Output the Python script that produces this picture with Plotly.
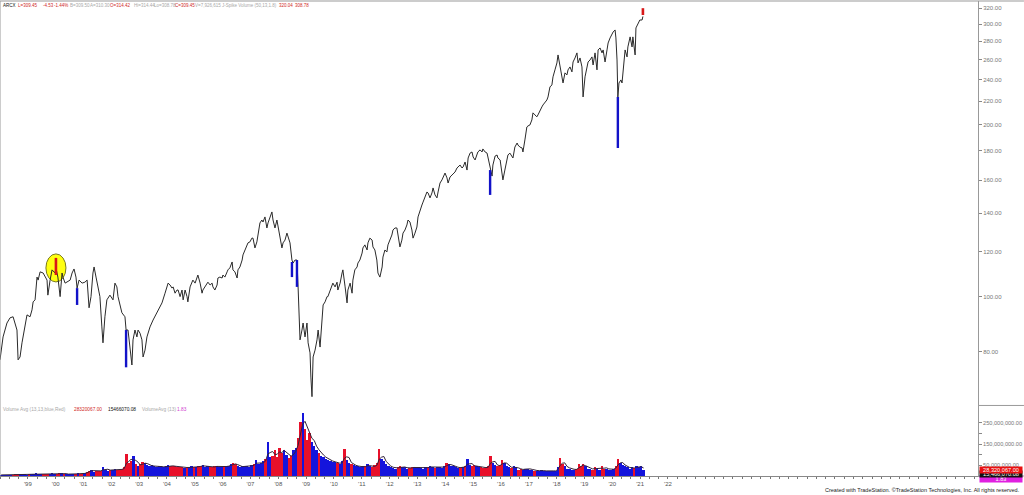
import numpy as np
import pandas as pd
import plotly.graph_objects as go

# ---------------- data ----------------
years = [
    1998.00, 1998.11, 1998.25, 1998.36, 1998.47, 1998.54, 1998.61, 1998.65, 1998.72, 1998.79, 1998.90, 1998.97,
    1999.08, 1999.15, 1999.19, 1999.26, 1999.33, 1999.37, 1999.44, 1999.55, 1999.69, 1999.72, 1999.80, 1999.87, 1999.98,
    2000.01, 2000.08, 2000.16, 2000.23, 2000.26, 2000.34, 2000.41, 2000.52, 2000.59, 2000.66, 2000.73, 2000.77, 2000.84, 2000.95,
    2001.05, 2001.13, 2001.20, 2001.27, 2001.34, 2001.38, 2001.45, 2001.52, 2001.59, 2001.66, 2001.70, 2001.77, 2001.84, 2001.95,
    2002.06, 2002.13, 2002.20, 2002.24, 2002.38, 2002.49, 2002.53, 2002.60, 2002.67, 2002.74, 2002.78, 2002.85, 2002.92, 2002.96,
    2003.03, 2003.10, 2003.14, 2003.21, 2003.28, 2003.32, 2003.39, 2003.50, 2003.64, 2003.75, 2003.82, 2003.93,
    2004.00, 2004.04, 2004.11, 2004.18, 2004.22, 2004.29, 2004.36, 2004.40, 2004.47, 2004.54, 2004.58, 2004.65, 2004.72, 2004.75, 2004.83, 2004.90, 2004.93,
    2005.01, 2005.08, 2005.11, 2005.19, 2005.26, 2005.29, 2005.37, 2005.44, 2005.47, 2005.55, 2005.62, 2005.65, 2005.72, 2005.80, 2005.83, 2005.90, 2005.98,
    2006.01, 2006.08, 2006.16, 2006.19, 2006.26, 2006.34, 2006.37, 2006.44, 2006.52, 2006.55, 2006.62, 2006.70, 2006.73, 2006.80, 2006.87, 2006.91, 2006.98,
    2007.05, 2007.09, 2007.16, 2007.23, 2007.27, 2007.34, 2007.41, 2007.45, 2007.52, 2007.59, 2007.63, 2007.70, 2007.77, 2007.81, 2007.88, 2007.95, 2007.99,
    2008.06, 2008.13, 2008.17, 2008.24, 2008.31, 2008.35, 2008.42, 2008.49, 2008.53, 2008.60, 2008.67, 2008.71, 2008.74, 2008.78, 2008.85, 2008.89, 2008.96,
    2009.03, 2009.07, 2009.14, 2009.17, 2009.21, 2009.25, 2009.32, 2009.39, 2009.43, 2009.50, 2009.57, 2009.61, 2009.68, 2009.75, 2009.78, 2009.86, 2009.96,
    2010.04, 2010.11, 2010.14, 2010.22, 2010.29, 2010.32, 2010.40, 2010.47, 2010.50, 2010.58, 2010.65, 2010.68, 2010.75, 2010.83, 2010.86, 2010.93,
    2011.01, 2011.04, 2011.11, 2011.19, 2011.22, 2011.29, 2011.37, 2011.40, 2011.47, 2011.54, 2011.58, 2011.65, 2011.73, 2011.76, 2011.83, 2011.90, 2011.94,
    2012.01, 2012.08, 2012.12, 2012.19, 2012.26, 2012.30, 2012.37, 2012.44, 2012.48, 2012.55, 2012.62, 2012.66, 2012.73, 2012.80, 2012.84, 2012.91, 2012.98,
    2013.02, 2013.09, 2013.16, 2013.20, 2013.27, 2013.34, 2013.38, 2013.45, 2013.52, 2013.56, 2013.63, 2013.70, 2013.74, 2013.81, 2013.88, 2013.92, 2013.99,
    2014.06, 2014.10, 2014.17, 2014.24, 2014.28, 2014.35, 2014.42, 2014.46, 2014.53, 2014.60, 2014.64, 2014.71, 2014.78, 2014.82, 2014.89, 2014.96,
    2015.00, 2015.07, 2015.14, 2015.17, 2015.25, 2015.32, 2015.35, 2015.43, 2015.50, 2015.53, 2015.61, 2015.68, 2015.71, 2015.79, 2015.86, 2015.89, 2015.97,
    2016.04, 2016.07, 2016.14, 2016.22, 2016.25, 2016.32, 2016.40, 2016.43, 2016.50, 2016.58, 2016.61, 2016.68, 2016.76, 2016.79, 2016.86, 2016.93, 2016.97,
    2017.04, 2017.11, 2017.15, 2017.22, 2017.29, 2017.33, 2017.40, 2017.47, 2017.51, 2017.58, 2017.65, 2017.69, 2017.76, 2017.83, 2017.87, 2017.94,
    2018.01, 2018.05, 2018.12, 2018.19, 2018.23, 2018.30, 2018.37, 2018.41, 2018.48, 2018.55, 2018.59, 2018.66, 2018.73, 2018.77, 2018.84, 2018.91, 2018.95,
    2019.02, 2019.09, 2019.13, 2019.20, 2019.27, 2019.31, 2019.38, 2019.45, 2019.49, 2019.56, 2019.63, 2019.67, 2019.74, 2019.81, 2019.85, 2019.92, 2019.99,
    2020.03, 2020.10, 2020.13, 2020.17, 2020.20, 2020.24, 2020.31, 2020.35, 2020.38, 2020.46, 2020.53, 2020.56, 2020.64, 2020.71, 2020.74, 2020.82, 2020.85, 2020.92, 2020.99,
    2021.07, 2021.10,
]
prices = [
    77.5, 85.0, 89.9, 91.8, 92.2, 89.2, 87.4, 77.5, 78.4, 83.0, 89.9, 92.9,
    92.2, 94.8, 97.9, 98.7, 108.2, 106.9, 110.5, 110.0, 106.9, 100.6, 106.9, 111.4, 110.0,
    112.3, 108.2, 100.0, 110.0, 108.2, 105.6, 106.0, 106.9, 110.0, 111.8, 108.2, 103.5, 106.9, 105.6,
    106.0, 106.9, 95.6, 100.0, 110.0, 112.7, 108.2, 104.0, 100.0, 88.5, 83.0, 92.2, 98.7, 100.6,
    98.7, 105.6, 104.0, 100.0, 93.7, 92.2, 87.4, 87.4, 81.6, 75.9, 84.0, 87.4, 85.0, 87.4,
    86.3, 84.0, 78.4, 80.6, 85.0, 86.3, 88.5, 91.0, 93.7, 95.9, 97.5, 101.4,
    104.8, 105.6, 104.8, 103.5, 104.0, 101.4, 102.7, 102.7, 100.0, 102.7, 98.7, 102.7, 100.0, 97.9, 104.0, 105.6, 106.9,
    105.6, 107.8, 109.1, 105.6, 101.4, 102.7, 104.0, 105.6, 106.0, 104.8, 105.6, 104.0, 102.7, 104.8, 107.8, 108.2, 107.8,
    109.1, 108.2, 110.5, 111.4, 112.3, 115.0, 111.4, 110.5, 107.8, 111.4, 112.7, 115.9, 118.3, 120.7, 123.2, 124.2, 124.7,
    126.6, 126.6, 121.7, 124.7, 129.2, 134.6, 136.2, 135.1, 137.9, 131.9, 134.6, 137.9, 140.7, 136.2, 131.9, 136.2, 132.4,
    125.6, 121.7, 124.2, 125.6, 129.2, 127.1, 124.2, 115.9, 114.5, 115.9, 115.9, 104.0, 92.2, 84.0, 87.4, 89.9, 85.0,
    89.9, 83.0, 79.7, 72.3, 66.8, 78.4, 80.6, 84.0, 87.4, 81.6, 91.8, 96.7, 97.9, 100.0, 100.0, 102.7, 105.6,
    104.0, 106.0, 102.7, 105.6, 110.0, 111.4, 104.0, 97.5, 102.7, 105.6, 101.4, 106.9, 111.4, 112.7, 114.5, 115.9,
    119.2, 121.7, 123.2, 120.7, 124.2, 126.6, 125.6, 122.2, 120.7, 115.9, 110.0, 108.2, 112.7, 117.3, 120.7, 119.7, 123.2,
    125.6, 128.2, 130.8, 131.9, 131.9, 128.2, 122.2, 125.6, 129.2, 130.8, 133.5, 136.2, 135.1, 130.8, 126.6, 129.2, 132.4,
    137.9, 141.8, 144.7, 146.4, 149.5, 152.5, 151.9, 148.9, 151.9, 155.0, 150.7, 148.9, 152.5, 158.1, 160.1, 161.4, 164.6,
    161.4, 158.1, 162.0, 163.3, 164.6, 165.3, 168.0, 168.7, 170.0, 168.0, 168.7, 172.1, 166.6, 174.9, 178.4, 179.2,
    175.6, 173.5, 178.4, 179.2, 180.7, 179.2, 181.4, 179.2, 178.4, 175.6, 166.6, 162.6, 170.0, 176.3, 177.0, 174.9, 173.5,
    162.0, 160.1, 166.6, 173.5, 177.0, 178.4, 175.6, 174.9, 182.8, 185.8, 184.3, 182.8, 182.1, 179.2, 188.1, 198.2, 199.0,
    199.8, 203.9, 209.8, 208.1, 206.5, 208.1, 212.3, 214.9, 216.6, 218.4, 221.0, 223.7, 232.9, 234.8, 242.6, 249.5,
    256.6, 265.0, 252.5, 242.6, 236.7, 246.5, 244.5, 249.5, 252.5, 247.5, 257.6, 261.8, 267.2, 256.6, 261.8, 252.5, 223.7,
    242.6, 252.5, 257.6, 259.7, 262.9, 254.5, 267.2, 249.5, 270.4, 272.6, 267.2, 270.4, 257.6, 270.4, 278.1, 283.8, 289.5,
    290.7, 293.1, 283.8, 259.7, 223.7, 236.7, 239.6, 236.7, 246.5, 270.4, 262.9, 273.7, 285.0, 273.7, 285.0, 265.0, 295.5, 301.5, 305.1,
    305.1, 309.5,
]

# J-Spike bars (year, low, high)
blue_spike_years = [2000.77, 2002.53, 2008.49, 2008.67, 2015.61, 2020.20]
blue_spike_low = [96.7, 75.2, 108.2, 104.0, 150.7, 182.1]
blue_spike_high = [103.5, 87.4, 115.0, 115.9, 166.6, 223.7]
red_spike_years = [2000.01, 2021.10]
red_spike_low = [109.1, 311.3]
red_spike_high = [116.9, 320.0]

# monthly volume (millions), Jan 1998 .. Feb 2021
volume_start_year = 1998
volume_millions = [
    5, 6, 5, 6, 7, 6, 8, 9, 8, 7, 8, 7,
    8, 9, 8, 12, 9, 8, 9, 10, 9, 10, 12, 9,
    10, 12, 14, 10, 9, 8, 9, 8, 10, 12, 11, 10,
    15, 20, 25, 30, 20, 25, 22, 25, 40, 30, 25, 28,
    30, 32, 30, 28, 35, 40, 105, 60, 70, 95, 55, 45,
    55, 65, 60, 50, 45, 50, 45, 40, 45, 45, 40, 45,
    50, 45, 48, 45, 40, 42, 40, 38, 42, 40, 45, 40,
    42, 45, 48, 50, 42, 45, 40, 42, 45, 48, 42, 40,
    45, 48, 45, 55, 60, 55, 45, 42, 45, 48, 45, 42,
    50, 55, 75, 55, 60, 70, 80, 160, 90, 95, 120, 90,
    130, 110, 120, 100, 85, 95, 120, 130, 180, 255, 295, 220,
    170, 200, 160, 140, 120, 110, 95, 90, 80, 75, 70, 65,
    65, 60, 55, 70, 125, 75, 60, 55, 50, 45, 45, 40,
    45, 45, 55, 45, 40, 50, 60, 125, 80, 70, 55, 45,
    40, 38, 35, 40, 45, 42, 40, 35, 38, 40, 42, 38,
    40, 38, 35, 40, 42, 45, 40, 38, 40, 42, 38, 45,
    60, 55, 45, 45, 40, 38, 40, 42, 45, 80, 50, 45,
    50, 45, 42, 40, 38, 40, 45, 95, 60, 50, 45, 50,
    75, 60, 45, 40, 38, 45, 40, 30, 32, 30, 35, 35,
    30, 28, 25, 25, 25, 28, 22, 22, 25, 22, 25, 25,
    40, 85, 55, 45, 35, 35, 30, 30, 32, 55, 45, 55,
    45, 35, 35, 30, 40, 35, 30, 45, 35, 35, 30, 30,
    35, 45, 80, 60, 50, 45, 40, 35, 40, 38, 45, 40,
    45, 28,
]

x_tick_years = list(range(1999, 2023))
x_tick_labels = ["'%02d" % (y % 100) for y in x_tick_years]
price_ticks = [80, 100, 120, 140, 160, 180, 200, 220, 240, 260, 280, 300, 320]
volume_ticks = [50e6, 150e6, 250e6]
volume_minor_ticks = [100e6, 200e6]

# ---------------- figure ----------------
FONT = "Liberation Sans, Arial, sans-serif"
fig = go.Figure()

# volume bars
vol = np.array(volume_millions, dtype=float) * 1e6
vol_x = volume_start_year + (np.arange(len(vol)) + 0.5) / 12.0
p_start = np.interp(vol_x - 1 / 24, years, prices)
p_end = np.interp(vol_x + 1 / 24, years, prices)
bar_colors = np.where(p_end < p_start, "#e8102a", "#1414dc")
fig.add_trace(go.Bar(x=vol_x, y=vol, width=1 / 12, marker=dict(color=bar_colors, line=dict(width=0)),
                     xaxis="x", yaxis="y2", hoverinfo="skip"))
vol_avg = pd.Series(vol).rolling(3, min_periods=1).mean()
fig.add_trace(go.Scatter(x=vol_x, y=vol_avg, mode="lines", line=dict(color="#33223a", width=1),
                         xaxis="x", yaxis="y2", hoverinfo="skip"))

# price line
fig.add_trace(go.Scatter(x=years, y=prices, mode="lines", line=dict(color="#2a2a2a", width=1),
                         xaxis="x", yaxis="y", hoverinfo="skip"))

def seg(xs, lo, hi):
    X, Y = [], []
    for a, b, c in zip(xs, lo, hi):
        X += [a, a, None]
        Y += [b, c, None]
    return X, Y

bx, by = seg(blue_spike_years, blue_spike_low, blue_spike_high)
fig.add_trace(go.Scatter(x=bx, y=by, mode="lines", line=dict(color="#1212c8", width=2.4),
                         xaxis="x", yaxis="y", hoverinfo="skip"))
rx, ry = seg(red_spike_years, red_spike_low, red_spike_high)
fig.add_trace(go.Scatter(x=rx, y=ry, mode="lines", line=dict(color="#d81818", width=2.6),
                         xaxis="x", yaxis="y", hoverinfo="skip"))

shapes = [
    # yellow highlight ellipse around the 2000 top
    dict(type="circle", xref="x", yref="y", x0=1999.65, x1=2000.37, y0=106.1, y1=118.8,
         fillcolor="#ffff10", line=dict(color="#7a7a20", width=1), layer="below"),
    # frame lines
    dict(type="line", xref="paper", yref="paper", x0=0, x1=1.047, y0=1.0, y1=1.0,
         line=dict(color="#999", width=1)),
    dict(type="line", xref="paper", yref="paper", x0=0, x1=0, y0=0, y1=1.0,
         line=dict(color="#999", width=1)),
    dict(type="line", xref="paper", yref="paper", x0=1.0, x1=1.047, y0=0.1485, y1=0.1485,
         line=dict(color="#999", width=1)),
    dict(type="line", xref="paper", yref="paper", x0=1.0, x1=1.047, y0=0, y1=0,
         line=dict(color="#999", width=1)),
]

W = 978.0
def px(x):
    return x / W

annotations = []
header = [
    ("ARCX", 1, "#111111"), ("L=309.45", 16, "#d02828"), ("-4.53", 41, "#d02828"),
    ("-1.44%", 52, "#d02828"), ("B=309.50", 68, "#a8a8a8"), ("A=310.30", 88, "#a8a8a8"),
    ("O=314.42", 108, "#d02828"), ("Hi=314.44", 132, "#a8a8a8"), ("Lo=308.78", 152, "#a8a8a8"),
    ("C=309.45", 173, "#d02828"), ("V=7,926,615", 193, "#a8a8a8"),
    ("J-Spike Volume (50,13,1.8)", 220, "#a8a8a8"), ("320.04", 277, "#d02828"), ("308.78", 293, "#d02828"),
]
for t, x, c in header:
    annotations.append(dict(xref="paper", yref="paper", x=px(x), y=0.9915, xanchor="left", yanchor="middle",
                            text=t, showarrow=False, font=dict(size=4.5, color=c, family=FONT)))

vheader = [
    ("Volume Avg (13,13,blue,Red)", 1, "#a8a8a8"), ("28320067.00", 72, "#d02828"),
    ("15466070.08", 106, "#111111"), ("VolumeAvg (13)", 140, "#a8a8a8"), ("1.83", 175, "#d040d0"),
]
for t, x, c in vheader:
    annotations.append(dict(xref="paper", yref="paper", x=px(x), y=0.139, xanchor="left", yanchor="middle",
                            text=t, showarrow=False, font=dict(size=4.8, color=c, family=FONT)))

# value boxes on the volume scale
for t, yv, bg in [("1.83", -0.0065, "#e020e0"), ("15,466,070.08", 0.0032, "#111111"),
                  ("28,320,067.00", 0.0126, "#e81010")]:
    annotations.append(dict(xref="paper", yref="paper", x=1.0015, y=yv, xanchor="left", yanchor="middle",
                            text=t, showarrow=False, bgcolor=bg, width=42, height=6, borderpad=0,
                            font=dict(size=5.6, color="white", family=FONT), align="center"))

annotations.append(dict(xref="paper", yref="paper", x=1022 / W, y=-0.0295, xanchor="right", yanchor="middle",
                        text="Created with TradeStation. \u00a9TradeStation Technologies, Inc. All rights reserved.",
                        showarrow=False, font=dict(size=5.5, color="#222", family=FONT)))

fig.update_layout(
    width=1024, height=495,
    margin=dict(l=0, r=46, t=1, b=19, autoexpand=False),
    paper_bgcolor="white", plot_bgcolor="white",
    showlegend=False, bargap=0,
    shapes=shapes, annotations=annotations,
    xaxis=dict(domain=[0, 1], range=[1998.0, 2033.14], anchor="y2",
               tickmode="array", tickvals=x_tick_years, ticktext=x_tick_labels,
               ticks="outside", ticklen=2, tickcolor="#777",
               minor=dict(ticks="outside", ticklen=2, tickcolor="#777", tick0=1999, dtick=1 / 3),
               showline=True, linecolor="#888", linewidth=1, showgrid=False, zeroline=False,
               tickfont=dict(size=6, color="#555", family=FONT)),
    yaxis=dict(domain=[0.1495, 1], type="log", range=[np.log10(64.6), np.log10(329.4)],
               side="right", anchor="x", tickmode="array", tickvals=price_ticks, tickformat=".2f",
               ticks="outside", ticklen=3, tickcolor="#888", showline=True, linecolor="#999",
               showgrid=False, zeroline=False, tickfont=dict(size=6, color="#777", family=FONT)),
    yaxis2=dict(domain=[0, 0.1474], range=[0, 328.6e6], side="right", anchor="x",
                tickmode="array", tickvals=volume_ticks, tickformat=",.2f",
                ticks="outside", ticklen=3, tickcolor="#888",
                minor=dict(tickmode="array", tickvals=volume_minor_ticks, ticks="outside", ticklen=3, tickcolor="#888"),
                showline=True, linecolor="#999", showgrid=False, zeroline=False,
                tickfont=dict(size=5.6, color="#777", family=FONT)),
)

fig.write_html("out.html", config={"displayModeBar": False},
               post_script="document.body.style.margin='0';document.body.style.padding='0';")
